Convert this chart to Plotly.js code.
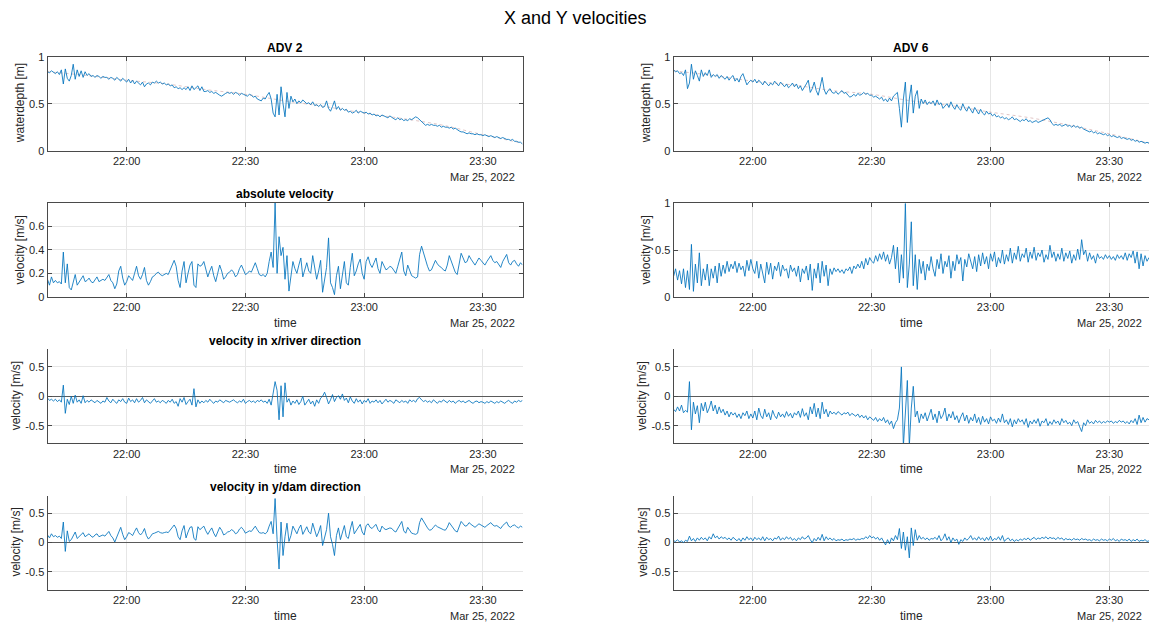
<!DOCTYPE html>
<html>
<head>
<meta charset="utf-8">
<script src="https://cdn.plot.ly/plotly-3.0.1.min.js"></script>
<style>
html,body{margin:0;padding:0;background:#fff;}
#chart{width:1149px;height:622px;}
</style>
</head>
<body>
<div id="chart"></div>
<script>
// ---------- DATA (one sample every 30 s, 21:40 -> 23:40, 25 Mar 2022) ----------
const startClock = [21, 40];          // hh, mm
const sampleStepSec = 30;
const trendStepMin = 10;

const depth2 = [
0.84,0.83,0.85,0.83,0.82,0.84,0.81,0.86,0.71,0.87,
0.77,0.74,0.80,0.92,0.76,0.86,0.79,0.85,0.78,0.84,
0.80,0.82,0.79,0.80,0.78,0.80,0.79,0.77,0.79,0.78,
0.78,0.76,0.78,0.77,0.75,0.78,0.76,0.74,0.77,0.75,
0.73,0.76,0.72,0.75,0.71,0.74,0.72,0.70,0.73,0.68,
0.71,0.72,0.70,0.73,0.72,0.74,0.72,0.73,0.71,0.72,
0.70,0.71,0.69,0.70,0.67,0.68,0.66,0.67,0.65,0.67,
0.65,0.68,0.64,0.69,0.65,0.67,0.69,0.64,0.68,0.63,
0.63,0.64,0.62,0.63,0.61,0.62,0.60,0.59,0.58,0.60,
0.61,0.62,0.61,0.62,0.60,0.62,0.61,0.59,0.61,0.60,
0.59,0.58,0.60,0.59,0.57,0.58,0.55,0.54,0.53,0.56,
0.55,0.59,0.62,0.55,0.40,0.36,0.60,0.38,0.68,0.50,
0.36,0.62,0.45,0.58,0.52,0.55,0.50,0.53,0.51,0.54,
0.52,0.50,0.51,0.49,0.52,0.48,0.49,0.47,0.49,0.46,
0.47,0.53,0.45,0.42,0.47,0.53,0.44,0.47,0.43,0.45,
0.43,0.44,0.41,0.42,0.40,0.41,0.43,0.40,0.42,0.41,
0.40,0.41,0.39,0.40,0.38,0.39,0.37,0.38,0.36,0.38,
0.37,0.36,0.35,0.37,0.35,0.34,0.33,0.35,0.33,0.34,
0.32,0.33,0.32,0.34,0.33,0.35,0.36,0.35,0.33,0.30,
0.28,0.27,0.28,0.27,0.28,0.27,0.27,0.26,0.27,0.25,
0.26,0.25,0.25,0.24,0.25,0.23,0.24,0.22,0.21,0.20,
0.20,0.19,0.18,0.19,0.18,0.18,0.17,0.18,0.17,0.17,
0.16,0.17,0.16,0.15,0.16,0.15,0.14,0.15,0.14,0.13,
0.14,0.13,0.12,0.12,0.11,0.12,0.10,0.10,0.09,0.09,
0.07];

const absVel2 = [
0.15,0.10,0.17,0.12,0.14,0.12,0.13,0.11,0.38,0.12,
0.28,0.08,0.06,0.14,0.19,0.10,0.13,0.16,0.18,0.13,
0.14,0.16,0.13,0.12,0.15,0.17,0.13,0.14,0.15,0.14,
0.17,0.19,0.14,0.12,0.07,0.11,0.22,0.26,0.16,0.10,
0.13,0.18,0.16,0.14,0.20,0.26,0.18,0.15,0.19,0.25,
0.14,0.10,0.13,0.17,0.18,0.20,0.21,0.19,0.18,0.19,
0.20,0.19,0.23,0.28,0.31,0.26,0.14,0.08,0.22,0.30,
0.12,0.20,0.27,0.30,0.10,0.08,0.28,0.26,0.27,0.30,
0.22,0.17,0.22,0.26,0.18,0.13,0.20,0.27,0.22,0.15,
0.17,0.20,0.21,0.23,0.21,0.17,0.19,0.24,0.27,0.23,
0.19,0.20,0.22,0.21,0.25,0.29,0.24,0.19,0.18,0.19,
0.17,0.20,0.30,0.38,0.25,0.795,0.20,0.51,0.35,0.42,
0.15,0.35,0.05,0.18,0.30,0.24,0.20,0.27,0.33,0.17,
0.24,0.29,0.22,0.20,0.35,0.26,0.15,0.22,0.31,0.04,
0.15,0.25,0.50,0.12,0.08,0.02,0.18,0.26,0.07,0.20,
0.30,0.12,0.10,0.25,0.37,0.18,0.22,0.28,0.32,0.20,
0.15,0.30,0.34,0.28,0.25,0.29,0.33,0.24,0.20,0.30,
0.26,0.23,0.24,0.26,0.25,0.22,0.20,0.26,0.33,0.38,
0.22,0.18,0.27,0.22,0.18,0.17,0.16,0.17,0.36,0.43,
0.37,0.30,0.26,0.22,0.23,0.27,0.31,0.28,0.26,0.25,
0.23,0.22,0.27,0.35,0.30,0.25,0.21,0.19,0.28,0.37,
0.33,0.29,0.30,0.35,0.32,0.29,0.27,0.30,0.33,0.31,
0.29,0.27,0.30,0.33,0.35,0.31,0.29,0.30,0.27,0.25,
0.30,0.33,0.36,0.29,0.27,0.30,0.31,0.28,0.26,0.29,
0.27];

const velX2 = [
-0.03,-0.07,-0.05,-0.08,-0.05,-0.09,-0.06,-0.10,0.19,-0.29,
-0.05,-0.14,0.00,-0.12,0.02,-0.10,-0.06,-0.12,0.01,-0.11,
-0.07,-0.10,-0.06,-0.09,-0.11,-0.07,-0.09,-0.12,-0.08,-0.10,
-0.02,-0.08,-0.11,-0.05,-0.09,-0.12,-0.06,-0.09,-0.04,-0.10,
-0.12,-0.03,-0.09,-0.06,-0.11,-0.04,-0.10,-0.07,-0.02,-0.11,
-0.06,-0.09,-0.12,-0.08,-0.04,-0.10,-0.08,-0.11,-0.07,-0.09,
-0.12,-0.07,-0.10,-0.05,-0.12,-0.09,-0.17,-0.04,-0.10,-0.02,
-0.14,-0.09,-0.05,-0.15,0.13,-0.18,-0.06,-0.12,-0.08,-0.11,
-0.07,-0.10,-0.05,-0.09,-0.12,-0.08,-0.10,-0.06,-0.09,-0.11,
-0.07,-0.09,-0.10,-0.08,-0.06,-0.09,-0.11,-0.08,-0.10,-0.05,
-0.12,-0.09,-0.07,-0.10,-0.08,-0.11,-0.07,-0.09,-0.06,-0.10,
-0.08,-0.12,-0.05,-0.15,0.05,0.25,0.10,-0.40,0.18,-0.35,
0.23,-0.10,-0.04,-0.15,-0.08,-0.12,-0.06,-0.14,-0.09,0.00,
-0.15,-0.10,-0.05,-0.13,-0.08,-0.17,-0.06,-0.12,-0.03,0.00,
0.07,-0.02,-0.13,-0.06,0.03,-0.09,-0.02,0.01,-0.05,0.04,
-0.07,-0.03,-0.11,-0.01,-0.08,-0.12,-0.04,-0.10,-0.06,-0.13,
-0.07,-0.10,-0.04,-0.12,-0.08,-0.10,-0.06,-0.11,-0.07,-0.13,
-0.08,-0.05,-0.10,-0.07,-0.09,-0.12,-0.06,-0.09,-0.11,-0.07,
-0.10,-0.08,-0.12,-0.06,-0.09,-0.07,-0.10,-0.04,-0.02,-0.06,
-0.09,-0.07,-0.10,-0.08,-0.11,-0.06,-0.09,-0.12,-0.08,-0.10,
-0.06,-0.09,-0.11,-0.07,-0.10,-0.08,-0.12,-0.09,-0.07,-0.10,
-0.08,-0.11,-0.09,-0.07,-0.10,-0.12,-0.09,-0.08,-0.11,-0.09,
-0.10,-0.12,-0.09,-0.11,-0.08,-0.10,-0.12,-0.09,-0.11,-0.08,
-0.10,-0.12,-0.09,-0.07,-0.10,-0.12,-0.08,-0.10,-0.07,-0.09,
-0.07];

const velY2 = [
0.13,0.08,0.15,0.10,0.12,0.09,0.11,0.07,0.35,-0.15,
0.20,0.02,0.05,0.12,0.18,0.07,0.10,0.14,0.17,0.10,
0.12,0.15,0.11,0.09,0.13,0.15,0.10,0.12,0.13,0.11,
0.15,0.19,0.12,0.08,0.01,0.09,0.20,0.26,0.14,0.05,
0.10,0.17,0.15,0.12,0.19,0.25,0.17,0.13,0.17,0.24,
0.12,0.06,0.10,0.15,0.16,0.18,0.19,0.17,0.16,0.17,
0.18,0.17,0.21,0.26,0.30,0.24,0.10,0.05,0.20,0.29,
0.08,0.18,0.26,0.27,0.07,0.04,0.27,0.22,0.25,0.28,
0.20,0.14,0.20,0.25,0.16,0.10,0.18,0.26,0.21,0.13,
0.15,0.18,0.19,0.22,0.20,0.15,0.17,0.23,0.26,0.22,
0.16,0.18,0.20,0.19,0.24,0.28,0.22,0.17,0.16,0.17,
0.15,0.18,0.28,0.36,0.15,0.75,0.05,-0.45,0.35,-0.22,
0.10,0.33,0.02,0.12,0.28,0.20,0.15,0.24,0.30,0.14,
0.21,0.27,0.18,0.15,0.33,0.22,0.10,0.18,0.29,-0.05,
0.08,0.22,0.50,0.10,-0.03,-0.22,0.12,0.25,0.05,0.18,
0.29,0.10,0.07,0.23,0.36,0.15,0.20,0.26,0.31,0.18,
0.13,0.29,0.32,0.26,0.24,0.28,0.31,0.22,0.18,0.28,
0.24,0.22,0.23,0.25,0.24,0.20,0.18,0.24,0.31,0.36,
0.20,0.16,0.26,0.20,0.16,0.15,0.14,0.16,0.34,0.42,
0.36,0.29,0.25,0.21,0.22,0.26,0.30,0.27,0.25,0.24,
0.22,0.21,0.26,0.34,0.29,0.24,0.20,0.18,0.27,0.36,
0.32,0.28,0.29,0.34,0.31,0.28,0.26,0.29,0.32,0.30,
0.28,0.26,0.29,0.32,0.34,0.30,0.28,0.29,0.26,0.24,
0.29,0.32,0.35,0.28,0.26,0.29,0.30,0.27,0.25,0.28,
0.26];

const depth6 = [
0.86,0.84,0.85,0.82,0.83,0.80,0.86,0.66,0.72,0.92,
0.76,0.85,0.80,0.74,0.86,0.79,0.83,0.80,0.86,0.78,
0.81,0.79,0.81,0.77,0.80,0.78,0.76,0.79,0.75,0.78,
0.80,0.74,0.77,0.73,0.79,0.82,0.75,0.70,0.73,0.75,
0.73,0.76,0.72,0.75,0.73,0.70,0.74,0.71,0.69,0.72,
0.70,0.74,0.71,0.69,0.73,0.70,0.68,0.71,0.67,0.69,
0.72,0.68,0.71,0.66,0.69,0.64,0.67,0.71,0.75,0.62,
0.66,0.73,0.64,0.59,0.68,0.78,0.65,0.60,0.64,0.66,
0.62,0.61,0.63,0.60,0.62,0.64,0.61,0.62,0.59,0.57,
0.58,0.60,0.58,0.61,0.59,0.60,0.62,0.60,0.61,0.59,
0.59,0.57,0.58,0.56,0.55,0.57,0.53,0.55,0.52,0.56,
0.53,0.58,0.60,0.62,0.45,0.25,0.55,0.73,0.30,0.55,
0.70,0.40,0.58,0.64,0.45,0.55,0.50,0.54,0.49,0.52,
0.50,0.53,0.48,0.54,0.49,0.51,0.45,0.47,0.50,0.46,
0.52,0.47,0.44,0.49,0.45,0.43,0.50,0.45,0.42,0.47,
0.43,0.40,0.46,0.42,0.39,0.44,0.40,0.38,0.42,0.39,
0.40,0.37,0.39,0.36,0.37,0.35,0.36,0.34,0.35,0.33,
0.34,0.36,0.33,0.34,0.32,0.31,0.33,0.32,0.34,0.31,
0.32,0.30,0.31,0.32,0.30,0.31,0.32,0.33,0.34,0.35,
0.33,0.29,0.27,0.28,0.27,0.28,0.26,0.27,0.28,0.26,
0.27,0.25,0.27,0.25,0.26,0.24,0.25,0.23,0.22,0.21,
0.20,0.21,0.19,0.20,0.18,0.19,0.18,0.17,0.18,0.16,
0.17,0.15,0.16,0.15,0.14,0.15,0.13,0.14,0.13,0.12,
0.13,0.11,0.12,0.10,0.11,0.09,0.10,0.09,0.08,0.09,
0.08];

const absVel6 = [
0.22,0.30,0.18,0.28,0.14,0.30,0.10,0.28,0.08,0.56,
0.06,0.35,0.15,0.47,0.12,0.30,0.18,0.35,0.12,0.30,
0.20,0.33,0.15,0.36,0.22,0.34,0.25,0.38,0.27,0.35,
0.30,0.38,0.26,0.36,0.29,0.33,0.22,0.39,0.28,0.40,
0.30,0.25,0.38,0.20,0.35,0.26,0.15,0.37,0.24,0.36,
0.19,0.33,0.28,0.37,0.22,0.34,0.28,0.30,0.20,0.34,
0.27,0.31,0.22,0.33,0.16,0.30,0.25,0.33,0.18,0.35,
0.07,0.30,0.20,0.36,0.15,0.38,0.22,0.34,0.12,0.30,
0.24,0.31,0.27,0.30,0.26,0.29,0.25,0.30,0.28,0.32,
0.25,0.33,0.30,0.35,0.31,0.38,0.30,0.41,0.34,0.42,
0.38,0.36,0.44,0.38,0.46,0.40,0.48,0.38,0.45,0.35,
0.42,0.55,0.30,0.53,0.15,0.45,0.20,0.995,0.10,0.35,
0.80,0.12,0.45,0.08,0.40,0.25,0.38,0.18,0.35,0.28,
0.43,0.30,0.22,0.40,0.30,0.46,0.25,0.38,0.32,0.44,
0.20,0.38,0.28,0.45,0.35,0.42,0.17,0.40,0.32,0.46,
0.38,0.30,0.43,0.27,0.45,0.33,0.47,0.35,0.43,0.30,
0.46,0.38,0.48,0.32,0.42,0.36,0.50,0.35,0.45,0.38,
0.52,0.36,0.47,0.40,0.54,0.38,0.46,0.42,0.52,0.37,
0.48,0.41,0.53,0.39,0.47,0.43,0.50,0.37,0.45,0.40,
0.55,0.42,0.48,0.38,0.46,0.40,0.52,0.38,0.47,0.41,
0.49,0.36,0.45,0.39,0.51,0.40,0.61,0.45,0.50,0.38,
0.47,0.40,0.44,0.36,0.46,0.41,0.43,0.40,0.45,0.41,
0.44,0.40,0.43,0.39,0.45,0.41,0.44,0.40,0.47,0.39,
0.46,0.42,0.49,0.36,0.48,0.30,0.46,0.33,0.44,0.38,
0.42];

const velX6 = [
-0.22,-0.26,-0.18,-0.25,-0.15,-0.28,-0.24,-0.27,0.25,-0.57,
-0.10,-0.30,-0.16,-0.45,-0.12,-0.25,-0.10,-0.28,-0.20,-0.08,
-0.25,-0.15,-0.30,-0.18,-0.28,-0.22,-0.32,-0.25,-0.35,-0.27,
-0.32,-0.28,-0.36,-0.30,-0.38,-0.28,-0.33,-0.25,-0.38,-0.30,
-0.37,-0.25,-0.40,-0.20,-0.33,-0.38,-0.22,-0.35,-0.28,-0.40,
-0.24,-0.33,-0.38,-0.27,-0.35,-0.30,-0.36,-0.26,-0.34,-0.29,
-0.37,-0.28,-0.32,-0.25,-0.36,-0.21,-0.34,-0.28,-0.40,-0.18,
-0.30,-0.12,-0.35,-0.20,-0.38,-0.10,-0.30,-0.22,-0.35,-0.25,
-0.30,-0.27,-0.31,-0.26,-0.29,-0.32,-0.28,-0.30,-0.27,-0.33,
-0.29,-0.31,-0.34,-0.30,-0.36,-0.32,-0.37,-0.33,-0.40,-0.35,
-0.38,-0.41,-0.36,-0.43,-0.38,-0.42,-0.36,-0.45,-0.40,-0.48,
-0.42,-0.55,-0.45,-0.40,-0.20,0.50,-0.85,-0.30,0.27,-0.85,
-0.20,0.17,-0.35,-0.25,-0.45,-0.30,-0.38,-0.28,-0.42,-0.32,
-0.22,-0.40,-0.30,-0.45,-0.25,-0.38,-0.32,-0.20,-0.42,-0.30,
-0.37,-0.26,-0.40,-0.33,-0.45,-0.35,-0.28,-0.42,-0.32,-0.46,
-0.36,-0.42,-0.30,-0.45,-0.36,-0.48,-0.34,-0.44,-0.38,-0.47,
-0.35,-0.42,-0.39,-0.46,-0.37,-0.44,-0.30,-0.45,-0.40,-0.48,
-0.38,-0.52,-0.40,-0.47,-0.38,-0.44,-0.40,-0.48,-0.38,-0.53,
-0.42,-0.47,-0.40,-0.46,-0.38,-0.51,-0.42,-0.45,-0.38,-0.50,
-0.43,-0.48,-0.40,-0.46,-0.42,-0.49,-0.38,-0.45,-0.41,-0.47,
-0.44,-0.50,-0.40,-0.46,-0.43,-0.52,-0.60,-0.45,-0.50,-0.40,
-0.46,-0.43,-0.47,-0.41,-0.45,-0.42,-0.46,-0.43,-0.45,-0.42,
-0.44,-0.42,-0.46,-0.43,-0.45,-0.41,-0.44,-0.42,-0.46,-0.43,
-0.47,-0.41,-0.45,-0.38,-0.48,-0.32,-0.45,-0.36,-0.44,-0.38,
-0.40];

const velY6 = [
0.03,0.02,0.05,0.01,0.03,0.00,0.04,0.02,0.11,0.03,
0.07,0.02,0.08,0.04,0.09,0.05,0.08,0.03,0.10,0.06,
0.15,0.08,0.11,0.06,0.10,0.07,0.09,0.05,0.08,0.04,
0.09,0.06,0.03,0.07,0.02,0.08,0.04,0.10,0.05,0.08,
0.03,0.09,0.05,0.08,0.04,0.10,0.03,0.09,0.05,0.07,
0.03,0.08,0.06,0.11,0.04,0.08,0.05,0.10,0.06,0.09,
0.04,0.07,0.03,0.08,0.05,0.10,0.06,0.08,0.12,0.05,
0.00,0.07,0.03,0.09,0.04,0.14,0.03,0.10,0.05,0.08,
0.04,0.07,0.03,0.05,0.04,0.06,0.03,0.05,0.04,0.06,
0.05,0.07,0.04,0.06,0.05,0.07,0.06,0.10,0.07,0.12,
0.08,0.10,0.06,0.09,0.04,0.08,0.03,-0.04,0.05,-0.02,
0.08,0.03,0.12,0.05,0.24,-0.10,0.18,-0.13,0.10,-0.26,
0.25,-0.05,0.22,0.04,0.12,0.06,0.09,0.05,0.08,0.04,
0.07,0.06,0.09,0.05,0.12,0.03,0.07,0.15,0.04,0.10,
0.00,0.08,0.03,0.06,-0.03,0.05,0.02,0.08,0.04,0.07,
0.12,0.05,0.08,0.04,0.10,0.05,0.08,0.03,0.09,0.04,
0.11,0.03,0.07,0.05,0.10,0.04,0.12,0.02,0.06,0.08,
0.03,0.06,0.02,0.05,0.03,0.06,0.04,0.07,0.05,0.08,
0.04,0.07,0.09,0.05,0.08,0.06,0.09,0.07,0.10,0.06,
0.09,0.07,0.08,0.05,0.09,0.06,0.08,0.04,0.07,0.05,
0.06,0.04,0.07,0.05,0.06,0.04,0.07,0.05,0.06,0.04,
0.05,0.03,0.06,0.04,0.05,0.03,0.06,0.04,0.05,0.03,
0.06,0.04,0.07,0.03,0.05,0.02,0.06,0.04,0.05,0.03,
0.06,0.02,0.05,0.03,0.06,0.02,0.04,0.03,0.05,0.02,
0.03];

// smoothed water depth (faint dotted reference line), every 10 min
const depthTrend2 = [0.84,0.80,0.75,0.71,0.65,0.60,0.53,0.47,0.40,0.34,0.27,0.17,0.08];
const depthTrend6 = [0.85,0.80,0.74,0.70,0.64,0.60,0.53,0.48,0.41,0.35,0.27,0.18,0.08];

// axis ticks
const timeTickVals = ['2022-03-25 22:00','2022-03-25 22:30','2022-03-25 23:00','2022-03-25 23:30'];
const timeTickText = ['22:00','22:30','23:00','23:30'];
const timeRange = ['2022-03-25 21:40','2022-03-25 23:40'];
const dateLabel = 'Mar 25, 2022';
const dateLabelAt = '2022-03-25 23:30';
const depthTicks = [0, 0.5, 1], depthTickText = ['0','0.5','1'];
const abs2Ticks = [0, 0.2, 0.4, 0.6], abs2TickText = ['0','0.2','0.4','0.6'];
const abs6Ticks = [0, 0.5, 1], abs6TickText = ['0','0.5','1'];
const compTicks = [-0.5, 0, 0.5], compTickText = ['-0.5','0','0.5'];

// ---------- helpers ----------
function pad(n){ return (n<10?'0':'') + n; }
function timeAtSec(sec){
  const total = startClock[0]*3600 + startClock[1]*60 + sec;
  const h = Math.floor(total/3600), m = Math.floor((total%3600)/60), s = Math.round(total%60);
  return '2022-03-25 ' + pad(h) + ':' + pad(m) + ':' + pad(s);
}
function timesFor(arr, stepSec){ return arr.map((_, i) => timeAtSec(i*stepSec)); }

// ---------- layout geometry ----------
const W = 1149, H = 622;
const colX = [[47.5/W, 522.5/W], [673.6/W, 1.0]];
const rowTopPx = [56.7, 203.0, 349.3, 495.6];
const rowH = 94;
const rowY = rowTopPx.map(t => [1 - (t+rowH)/H, 1 - t/H]);

const FONT = 'Liberation Sans, Arial, Helvetica, sans-serif';
const INK = '#262626';
const AXIS = '#4a4a4a';
const LINE = '#0072BD';

const panels = [
  {col:0,row:0,y:depth2, trend:depthTrend2, ylab:'waterdepth [m]', title:'ADV 2', range:[0,1], tv:depthTicks, tt:depthTickText, box:true, zero:false, xlab:false},
  {col:0,row:1,y:absVel2, ylab:'velocity [m/s]', title:'absolute velocity', range:[0,0.795], tv:abs2Ticks, tt:abs2TickText, box:true, zero:false, xlab:true},
  {col:0,row:2,y:velX2, ylab:'velocity [m/s]', title:'velocity in x/river direction', range:[-0.8,0.8], tv:compTicks, tt:compTickText, box:false, zero:true, xlab:true},
  {col:0,row:3,y:velY2, ylab:'velocity [m/s]', title:'velocity in y/dam direction', range:[-0.8,0.8], tv:compTicks, tt:compTickText, box:false, zero:true, xlab:true},
  {col:1,row:0,y:depth6, trend:depthTrend6, ylab:'waterdepth [m]', title:'ADV 6', range:[0,1], tv:depthTicks, tt:depthTickText, box:true, zero:false, xlab:false},
  {col:1,row:1,y:absVel6, ylab:'velocity [m/s]', title:'', range:[0,1], tv:abs6Ticks, tt:abs6TickText, box:true, zero:false, xlab:true},
  {col:1,row:2,y:velX6, ylab:'velocity [m/s]', title:'', range:[-0.8,0.8], tv:compTicks, tt:compTickText, box:false, zero:true, xlab:true},
  {col:1,row:3,y:velY6, ylab:'velocity [m/s]', title:'', range:[-0.8,0.8], tv:compTicks, tt:compTickText, box:false, zero:true, xlab:true}
];

const traces = [];
const layout = {
  width: W, height: H,
  margin: {l:0, r:0, t:0, b:0, pad:0},
  paper_bgcolor: '#ffffff', plot_bgcolor: '#ffffff',
  showlegend: false,
  font: {family: FONT, size: 11, color: INK},
  annotations: []
};

panels.forEach((p, k) => {
  const n = k + 1;
  const xa = 'x' + (k === 0 ? '' : n), ya = 'y' + (k === 0 ? '' : n);
  const xKey = 'xaxis' + (k === 0 ? '' : n), yKey = 'yaxis' + (k === 0 ? '' : n);
  const dx = colX[p.col], dy = rowY[p.row];

  if (p.trend) {
    traces.push({
      type:'scatter', mode:'lines', x: timesFor(p.trend, trendStepMin*60), y: p.trend,
      xaxis: xa, yaxis: ya, hoverinfo:'skip',
      line: {color:'rgba(200,150,150,0.55)', width:1, dash:'dot', shape:'spline'}
    });
  }
  traces.push({
    type:'scatter', mode:'lines', x: timesFor(p.y, sampleStepSec), y: p.y,
    xaxis: xa, yaxis: ya,
    line: {color: LINE, width: 0.85}
  });

  layout[xKey] = {
    type:'date', domain: dx, anchor: ya, range: timeRange,
    tickmode:'array', tickvals: timeTickVals, ticktext: timeTickText,
    showgrid:true, gridcolor:'#e6e6e6', gridwidth:1,
    showline:true, linecolor:AXIS, linewidth:1,
    mirror: p.box ? 'ticks' : false,
    ticks:'inside', ticklen:4, tickcolor:AXIS, tickwidth:1,
    tickfont:{family:FONT, size:11, color:INK},
    zeroline:false, fixedrange:true
  };
  layout[yKey] = {
    domain: dy, anchor: xa, range: p.range,
    tickmode:'array', tickvals: p.tv, ticktext: p.tt,
    showgrid:true, gridcolor:'#e6e6e6', gridwidth:1,
    showline:true, linecolor:AXIS, linewidth:1,
    mirror: (p.box && p.col === 0) ? 'ticks' : false,
    ticks:'inside', ticklen:4, tickcolor:AXIS, tickwidth:1,
    tickfont:{family:FONT, size:11, color:INK},
    zeroline: p.zero, zerolinecolor:'#5a5a5a', zerolinewidth:1,
    fixedrange:true
  };

  const midX = (dx[0]+dx[1])/2, midY = (dy[0]+dy[1])/2;
  if (p.title) {
    layout.annotations.push({text:'<b>'+p.title+'</b>', xref:'paper', yref:'paper', x:midX, y:dy[1],
      xanchor:'center', yanchor:'middle', yshift:8.5, showarrow:false, font:{size:12, color:'#000'}});
  }
  layout.annotations.push({text:p.ylab, xref:'paper', yref:'paper', x:dx[0], y:midY,
    xshift: p.zero ? -31.5 : -28, xanchor:'center', yanchor:'middle', textangle:-90, showarrow:false,
    font:{size:12, color:INK}});
  if (p.xlab) {
    layout.annotations.push({text:'time', xref:'paper', yref:'paper', x:midX, y:dy[0],
      xanchor:'center', yanchor:'middle', yshift:-26, showarrow:false, font:{size:12, color:INK}});
  }
  layout.annotations.push({text:dateLabel, xref:xa, yref:'paper', x:dateLabelAt, y:dy[0],
    xanchor:'center', yanchor:'middle', yshift:-26, showarrow:false, font:{size:11, color:INK}});
});

layout.annotations.push({text:'X and Y velocities', xref:'paper', yref:'paper', x:0.5, y:1-18/H,
  xanchor:'center', yanchor:'middle', showarrow:false, font:{size:18, color:'#000'}});

Plotly.newPlot('chart', traces, layout, {displayModeBar:false, staticPlot:true});
</script>
</body>
</html>
